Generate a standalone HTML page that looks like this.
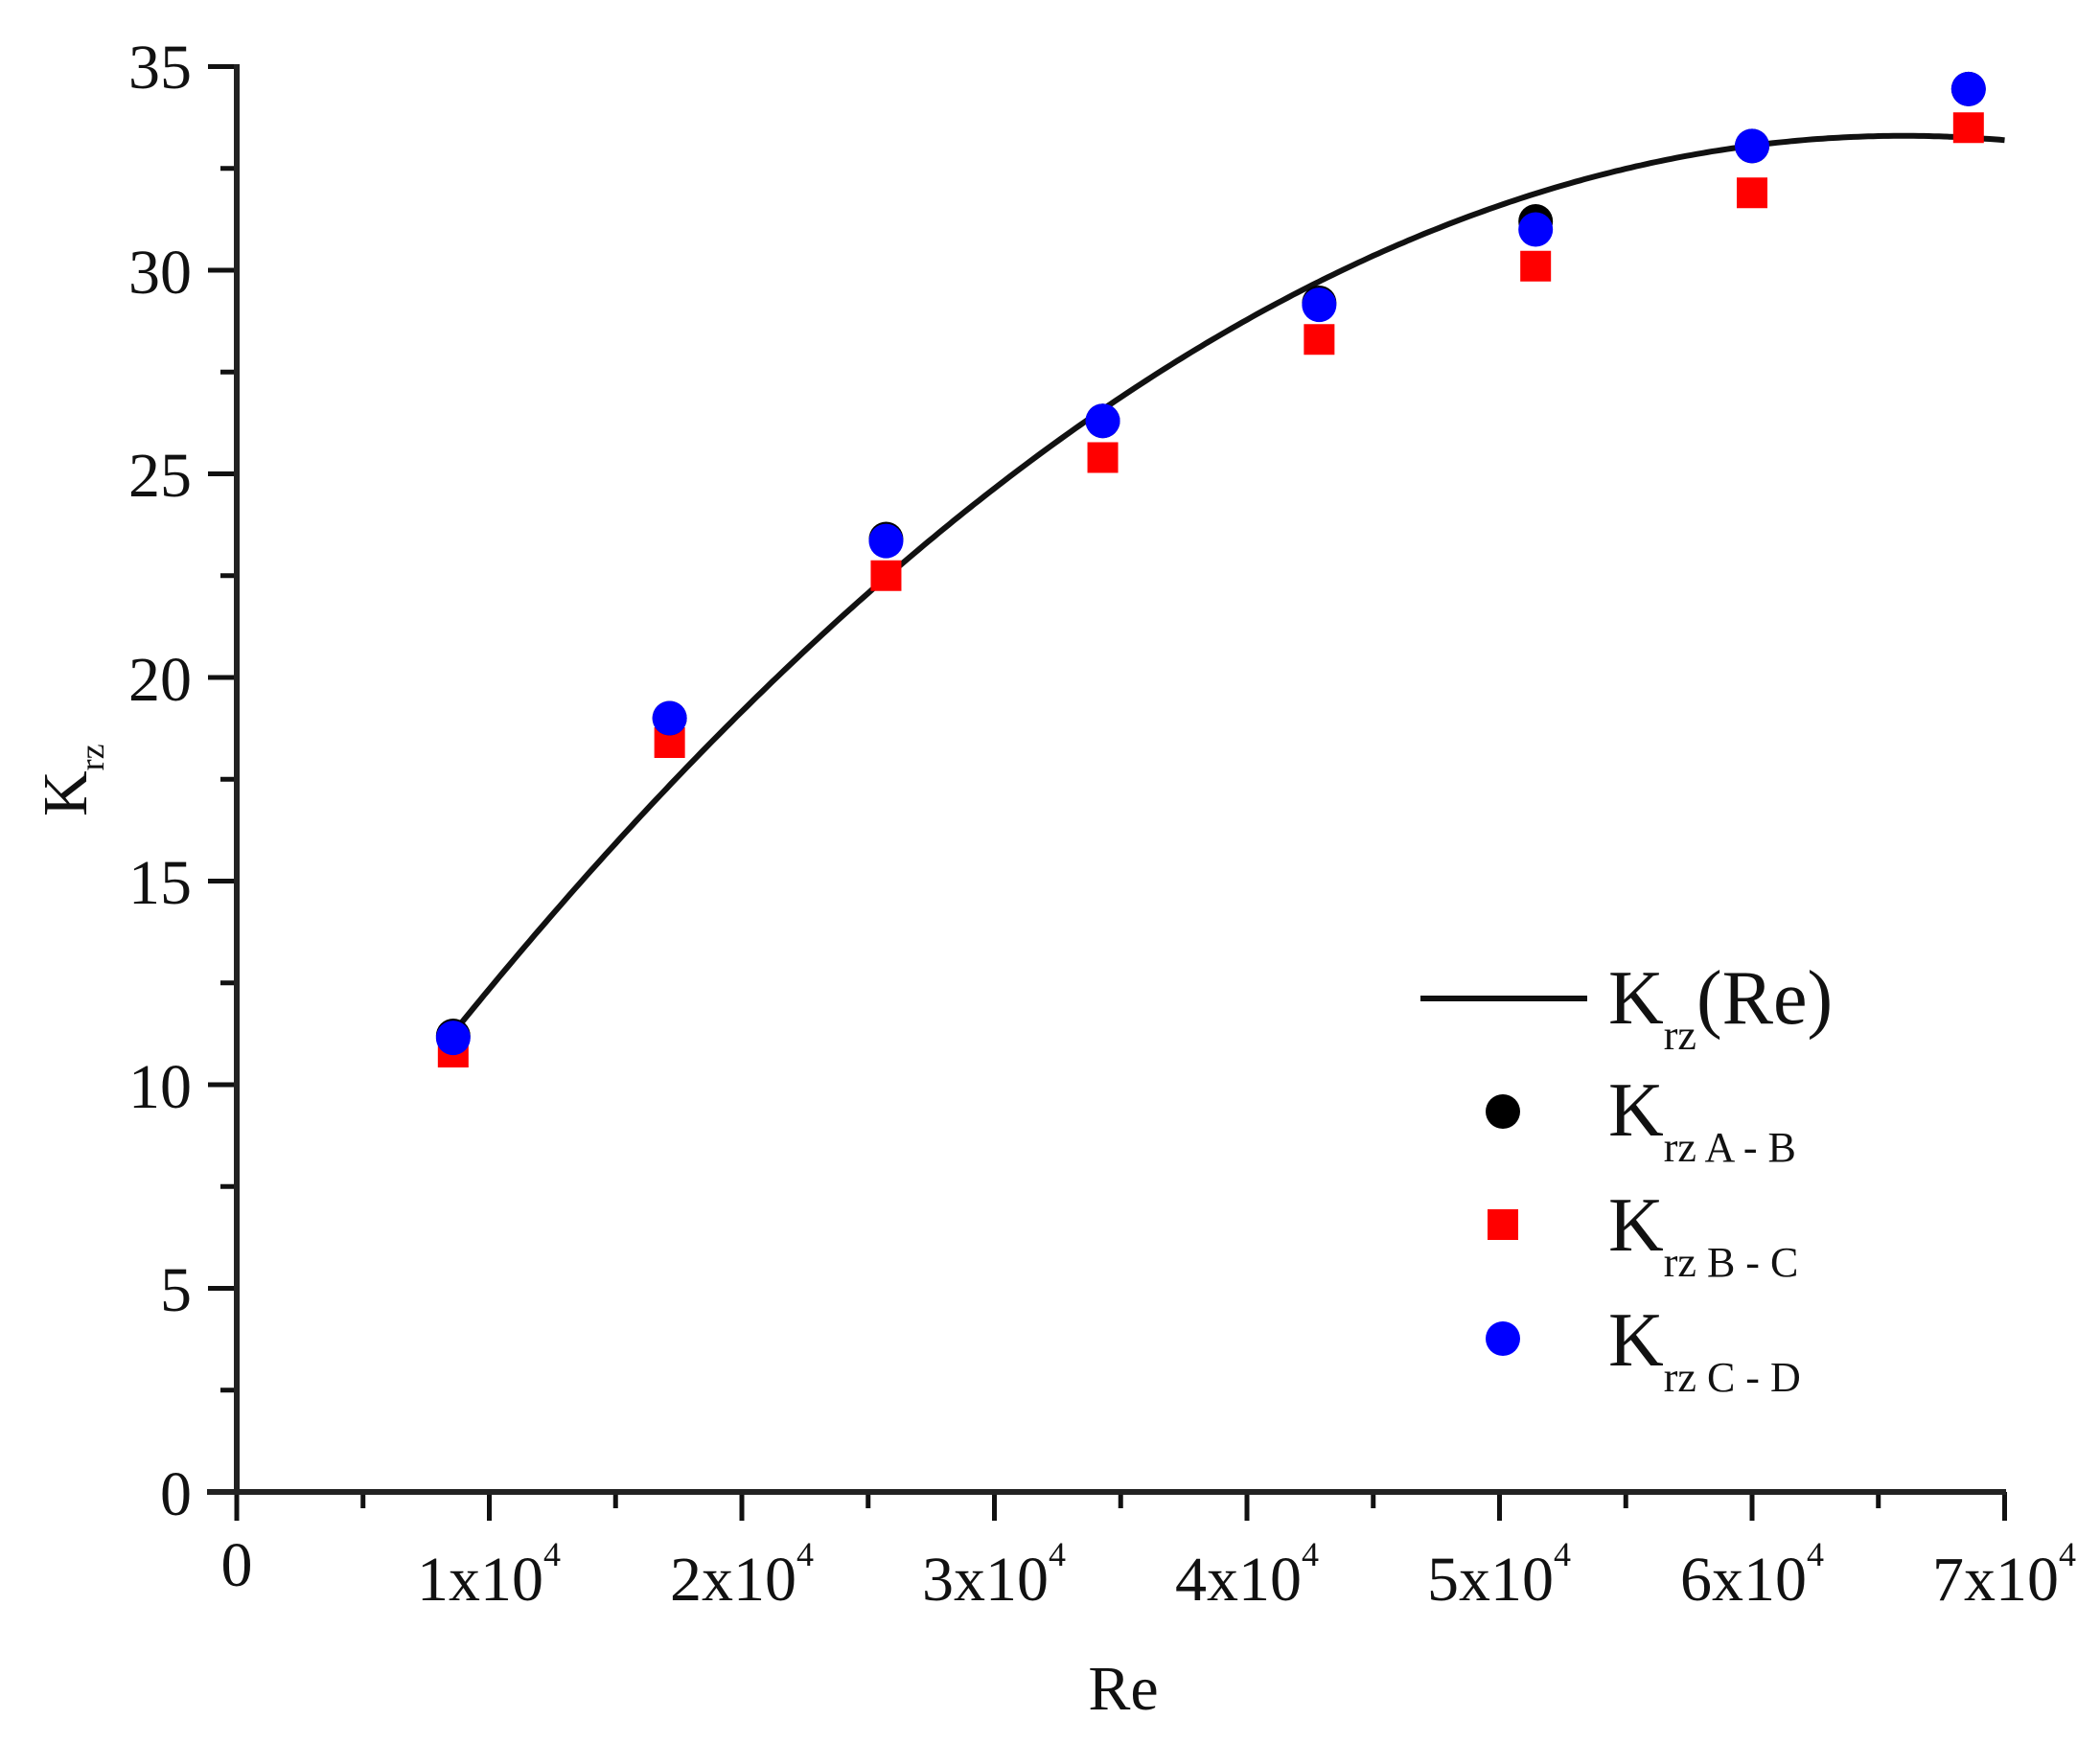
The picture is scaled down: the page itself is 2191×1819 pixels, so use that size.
<!DOCTYPE html>
<html><head><meta charset="utf-8"><style>
html,body{margin:0;padding:0;background:#fff;}
svg text{font-family:"Liberation Serif",serif;fill:#111;}
</style></head><body>
<svg id="s" width="2191" height="1814" viewBox="0 0 2191 1814" xmlns="http://www.w3.org/2000/svg">
<g id="ticks" stroke="#111" stroke-width="5"></g>
<line x1="247" y1="67" x2="247" y2="1560" stroke="#222" stroke-width="6"/>
<line x1="216" y1="1557" x2="2093" y2="1557" stroke="#222" stroke-width="6"/>
<g font-size="66" text-anchor="end">
<text x="200" y="92">35</text><text x="200" y="306">30</text><text x="200" y="518">25</text>
<text x="200" y="731">20</text><text x="200" y="943">15</text><text x="200" y="1156">10</text>
<text x="200" y="1368">5</text><text x="200" y="1581">0</text>
</g>
<g font-size="66" text-anchor="middle">
<text x="247" y="1655">0</text>
<text x="510" y="1670">1x10<tspan font-size="36" dy="-36">4</tspan></text>
<text x="774" y="1670">2x10<tspan font-size="36" dy="-36">4</tspan></text>
<text x="1037" y="1670">3x10<tspan font-size="36" dy="-36">4</tspan></text>
<text x="1301" y="1670">4x10<tspan font-size="36" dy="-36">4</tspan></text>
<text x="1564" y="1670">5x10<tspan font-size="36" dy="-36">4</tspan></text>
<text x="1828" y="1670">6x10<tspan font-size="36" dy="-36">4</tspan></text>
<text x="2091" y="1670">7x10<tspan font-size="36" dy="-36">4</tspan></text>
<text x="1172" y="1784">Re</text>
</g>
<text transform="translate(90,852) rotate(-90)" font-size="66">K<tspan font-size="36" dy="18">rz</tspan></text>
<path id="curve" fill="none" stroke="#111" stroke-width="6"/>
<g id="pts"></g>
<line x1="1482" y1="1042" x2="1656" y2="1042" stroke="#111" stroke-width="6"/>
<text x="1678" y="1068" font-size="80">K<tspan font-size="44" dy="27">rz</tspan><tspan dy="-27">(Re)</tspan></text>
<circle cx="1568" cy="1160" r="18" fill="#000"/>
<text x="1678" y="1185" font-size="80">K<tspan font-size="44" dy="27">rz A - B</tspan></text>
<rect x="1552" y="1262" width="32" height="32" fill="#f00"/>
<text x="1678" y="1305" font-size="80">K<tspan font-size="44" dy="27">rz B - C</tspan></text>
<circle cx="1568" cy="1397" r="18" fill="#00f"/>
<text x="1678" y="1425" font-size="80">K<tspan font-size="44" dy="27">rz C - D</tspan></text>
</svg>
<script>
function X(v){return 247+v*263.5;} function Y(k){return 1557-k*42.5;}
var t=document.getElementById("ticks"),h="";
for(var i=0;i<=14;i++){var x=X(i*0.5),L=(i%2==0)?30:17;h+='<line x1="'+x+'" y1="1557" x2="'+x+'" y2="'+(1557+L)+'"/>';}
for(var i=0;i<=14;i++){var y=Y(i*2.5),L=(i%2==0)?30:17;h+='<line x1="247" y1="'+y+'" x2="'+(247-L)+'" y2="'+y+'"/>';}
t.innerHTML=h;
var d="";for(var v=0.86;v<=7.0001;v+=0.02){var k=33.3-0.668*(v-6.6)*(v-6.6);d+=(d?"L":"M")+X(v).toFixed(1)+","+Y(k).toFixed(1);}
document.getElementById("curve").setAttribute("d",d);
var xs=[0.857,1.714,2.571,3.429,4.286,5.143,6.0,6.857];
var red=[10.8,18.4,22.5,25.4,28.3,30.1,31.9,33.5];
var blk=[11.2,19.0,23.4,26.3,29.2,31.2,33.05,34.45];
var blu=[11.15,19.0,23.35,26.3,29.15,31.0,33.05,34.45];
var p="";
for(var i=0;i<8;i++){p+='<rect x="'+(X(xs[i])-16)+'" y="'+(Y(red[i])-16)+'" width="32" height="32" fill="#f00"/>';}
for(var i=0;i<8;i++){p+='<circle cx="'+X(xs[i])+'" cy="'+Y(blk[i])+'" r="18" fill="#000"/>';}
for(var i=0;i<8;i++){p+='<circle cx="'+X(xs[i])+'" cy="'+Y(blu[i])+'" r="18" fill="#00f"/>';}
document.getElementById("pts").innerHTML=p;
</script>
</body></html>
